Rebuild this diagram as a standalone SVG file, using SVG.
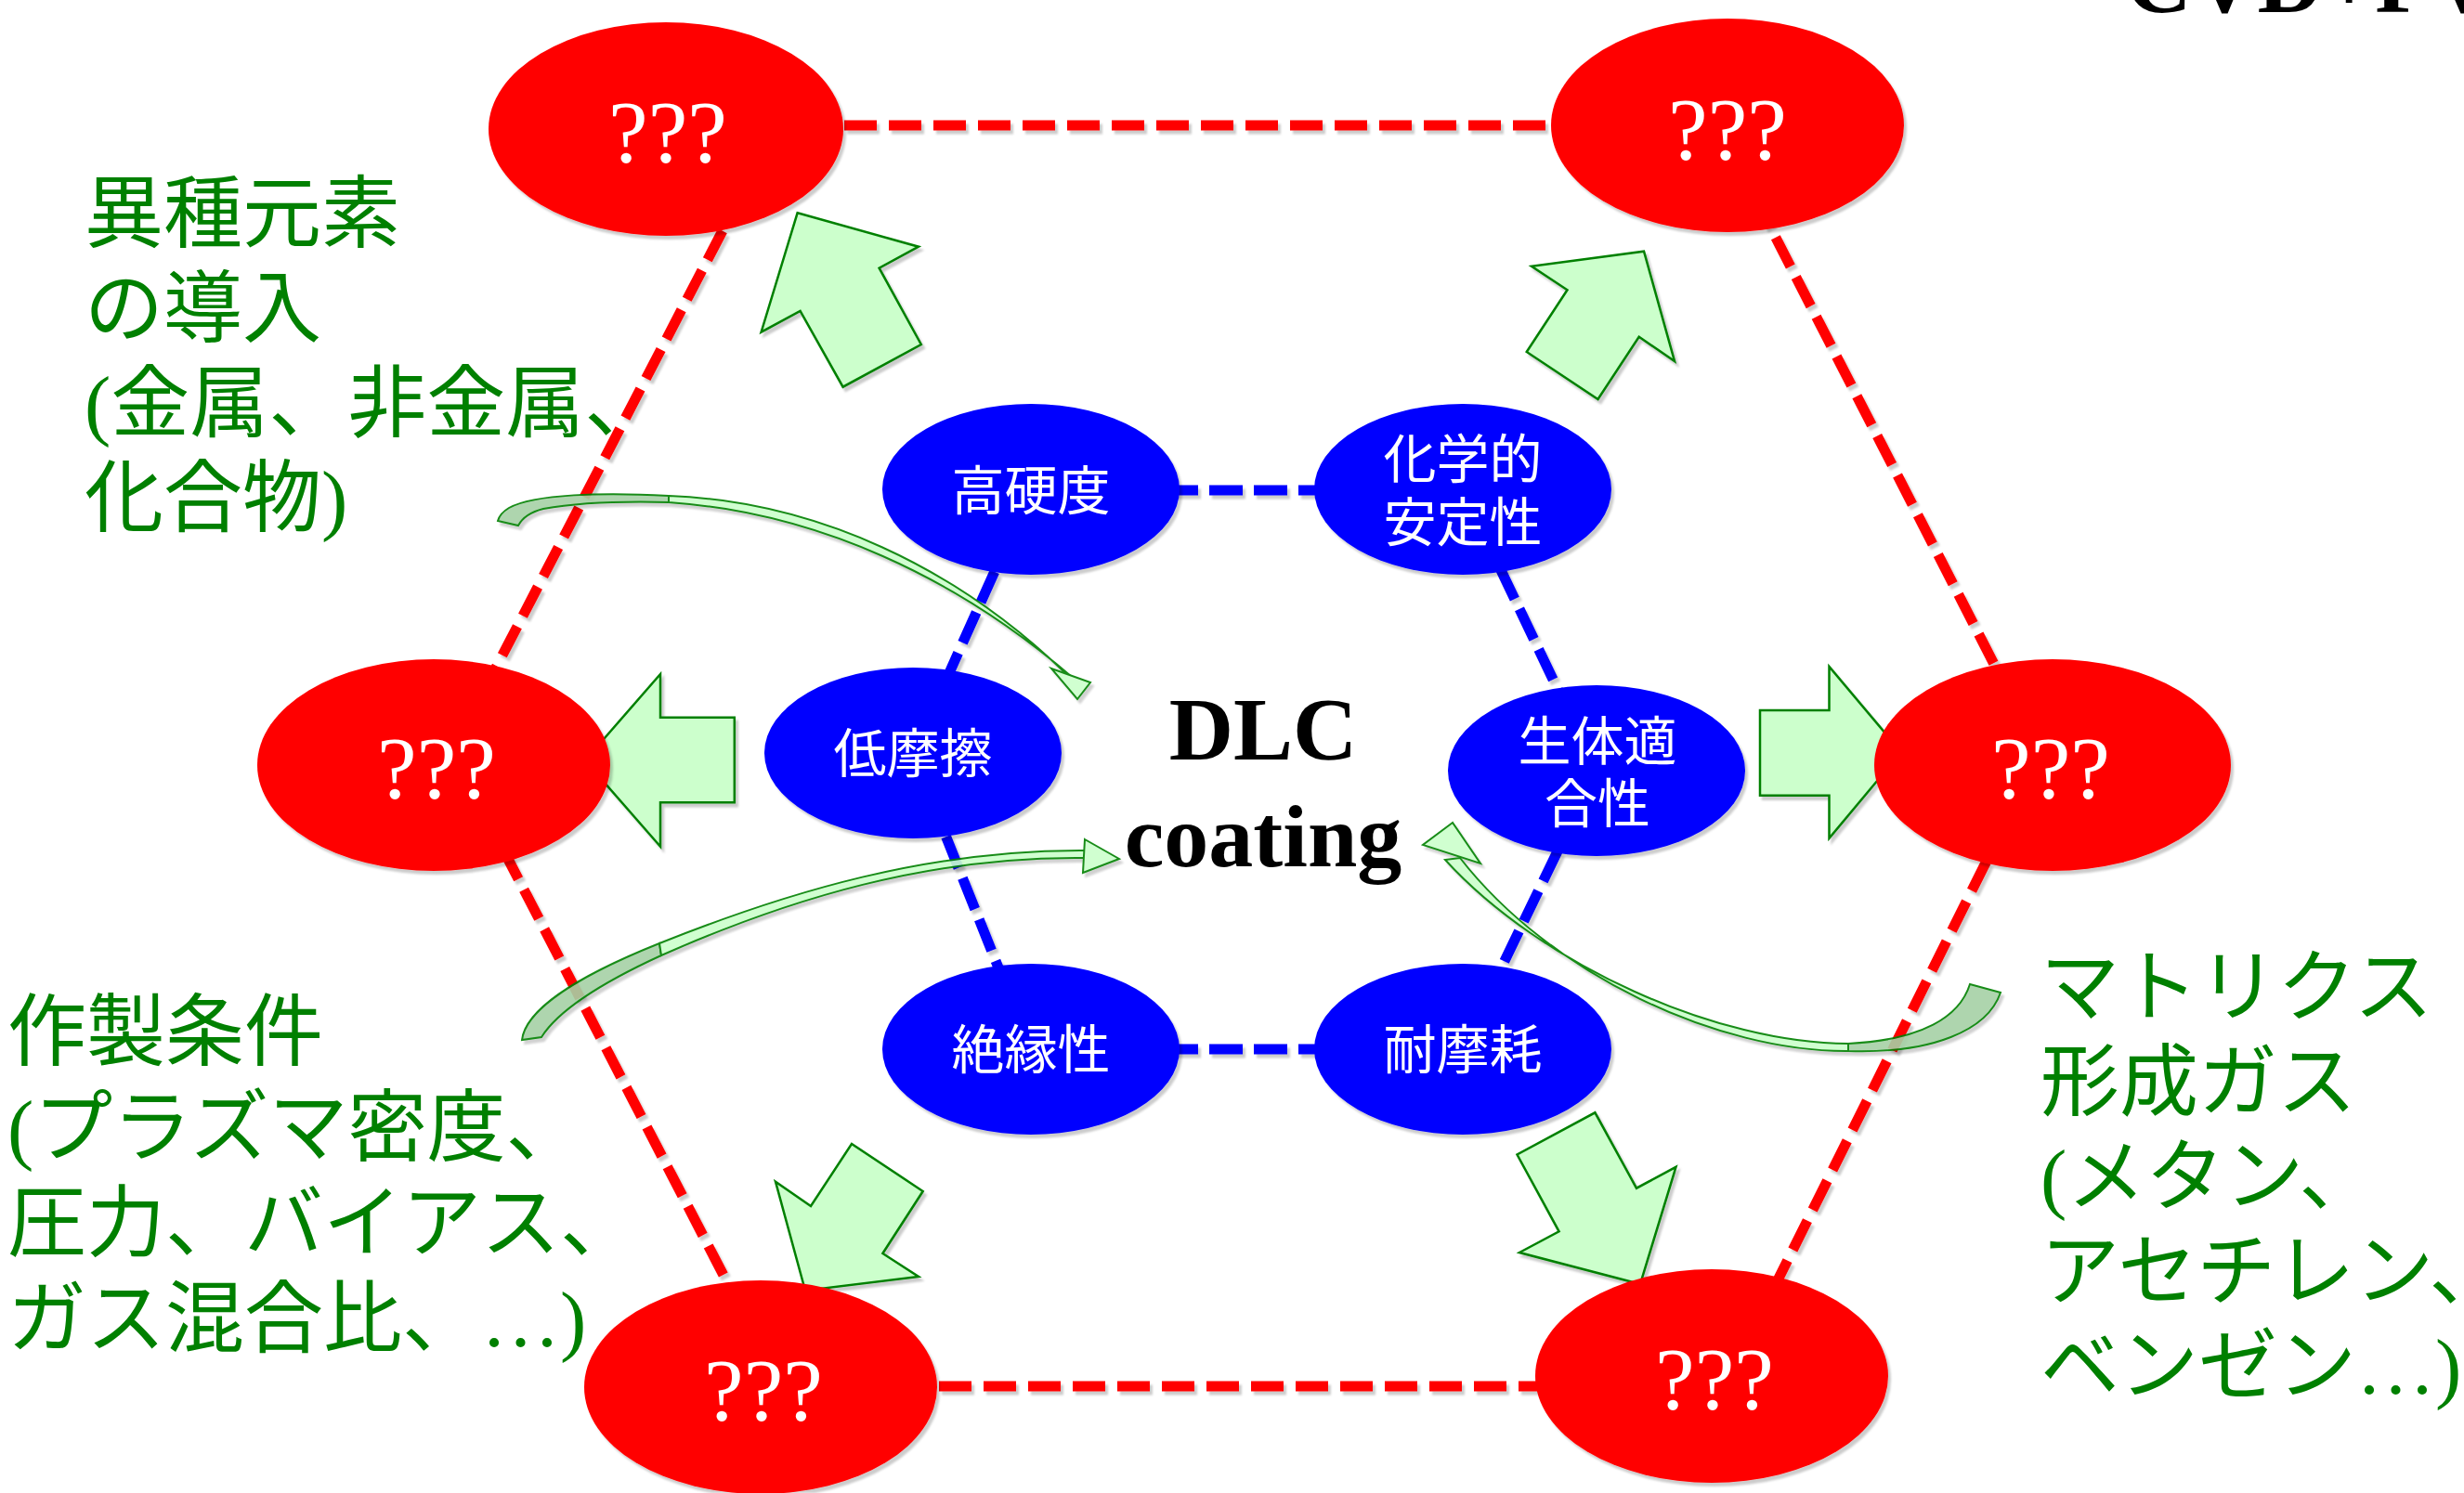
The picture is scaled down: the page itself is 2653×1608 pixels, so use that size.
<svg xmlns="http://www.w3.org/2000/svg" width="2653" height="1608" viewBox="0 0 2653 1608">
<defs>
<filter id="sh" filterUnits="userSpaceOnUse" x="0" y="0" width="2653" height="1608">
 <feOffset in="SourceAlpha" dx="3" dy="4" result="o"/>
 <feGaussianBlur in="o" stdDeviation="1.2" result="b"/>
 <feFlood flood-color="#000" flood-opacity="0.2"/>
 <feComposite in2="b" operator="in" result="s"/>
 <feMerge><feMergeNode in="s"/><feMergeNode in="SourceGraphic"/></feMerge>
</filter>
<style>
.red{fill:#ff0000}
.blue{fill:#0000ff}
.rl{stroke:#ff0000;stroke-width:11;stroke-dasharray:35 13;fill:none}
.bl{stroke:#0000ff;stroke-width:11;stroke-dasharray:36 12;fill:none}
.ba{fill:#ccffcc;stroke:#008000;stroke-width:2.5}
.rib{fill:#ccffcc;stroke:#008000;stroke-width:2}
.tail{fill:#a6d1a6;stroke:#008000;stroke-width:2}
.q{font-family:"Liberation Serif",serif;font-size:96px;fill:#fff;text-anchor:middle}
.bt{font-family:"Noto Sans CJK JP",sans-serif;font-size:57px;fill:#fff;text-anchor:middle}
.gt{font-family:"Liberation Serif","Noto Sans CJK JP",sans-serif;font-size:85px;fill:#008000}
.dlc{font-family:"Liberation Serif",serif;font-weight:bold;font-size:96px;fill:#000;text-anchor:middle}
</style>
</defs>
<rect width="2653" height="1608" fill="#fff"/>

<g id="connectors" filter="url(#sh)">
 <line class="rl" x1="717" y1="135" x2="1860" y2="135"/>
 <line class="rl" x1="800" y1="206" x2="505" y2="775"/>
 <line class="rl" x1="520" y1="873" x2="800" y2="1414"/>
 <line class="rl" x1="819" y1="1493" x2="1843" y2="1493"/>
 <line class="rl" x1="1890" y1="213" x2="2175" y2="770"/>
 <line class="rl" x1="2160" y1="885" x2="1890" y2="1427"/>
 <line class="bl" x1="1110" y1="528" x2="1574" y2="528"/>
 <line class="bl" x1="1110" y1="528" x2="983" y2="812"/>
 <line class="bl" x1="983" y1="812" x2="1110" y2="1130"/>
 <line class="bl" x1="1574" y1="526" x2="1719" y2="830"/>
 <line class="bl" x1="1719" y1="830" x2="1574" y2="1130"/>
 <line class="bl" x1="1110" y1="1130" x2="1574" y2="1130"/>
</g>

<g id="block-arrows" filter="url(#sh)">
 <polygon class="ba" points="858.6,229.3 989,265.7 946.6,288.7 991.8,371 907.6,416.7 861.6,335 819.6,357.7"/>
 <polygon class="ba" points="1770,270.7 1803,389 1764.7,362.7 1720.5,430 1643.75,379 1687.5,312.3 1649,286.7"/>
 <polygon class="ba" points="630,819 711,726 711,772.7 790.8,772.7 790.8,864.3 711,864.3 711,911.7"/>
 <polygon class="ba" points="2047,810 1969.5,718 1969.5,765 1895,765 1895,856.7 1969.5,856.7 1969.5,902.7"/>
 <polygon class="ba" points="867,1390 835,1272.7 873,1299 917,1232 993.7,1283 950.4,1350 989,1375"/>
 <polygon class="ba" points="1766,1383 1636,1349 1678.6,1326.3 1633.5,1243.5 1717.4,1198.3 1762,1279.7 1804.5,1256.9"/>
</g>

<g id="curved-arrows" filter="url(#sh)" opacity="0.9">
 <path class="tail" d="M 720,534 C 650,530 575,532 548,547 Q 538,553 536,561 L 558,566 Q 565,553 585,548 C 630,540 680,540 720,541 Z"/>
 <path class="rib" d="M 720,534 C 880,540 1030,612 1146,724 L 1154,729 C 1030,622 880,552 720,541 Z"/>
 <polygon class="rib" points="1132,720 1174,735 1160,753"/>

 <path class="tail" d="M 562,1120 C 565,1095 600,1060 710,1016 L 712,1029 C 640,1062 600,1090 583,1117 Z"/>
 <path class="rib" d="M 710,1016 C 850,960 1000,915 1168,916 L 1168,924 C 1000,922 850,968 712,1029 Z"/>
 <polygon class="rib" points="1168,904 1205,925 1166,940"/>

 <path class="tail" d="M 2121,1060 C 2110,1095 2070,1120 1990,1124 L 1990,1132 C 2080,1135 2140,1110 2154,1069 Z"/>
 <path class="rib" d="M 1990,1124 C 1850,1124 1660,1040 1556,926 L 1572,924 C 1670,1050 1850,1133 1990,1132 Z"/>
 <polygon class="rib" points="1564,886 1532,910 1594,930"/>
</g>

<g id="n-tl"><ellipse class="red" cx="717" cy="139" rx="191" ry="115" filter="url(#sh)"/><text class="q" x="719" y="175">???</text></g>
<g id="n-tr"><ellipse class="red" cx="1860" cy="135" rx="190" ry="115" filter="url(#sh)"/><text class="q" x="1860" y="172">???</text></g>
<g id="n-ml"><ellipse class="red" cx="467" cy="824" rx="190" ry="114" filter="url(#sh)"/><text class="q" x="470" y="860">???</text></g>
<g id="n-mr"><ellipse class="red" cx="2210" cy="824" rx="192" ry="114" filter="url(#sh)"/><text class="q" x="2208" y="860">???</text></g>
<g id="n-bl"><ellipse class="red" cx="819" cy="1494" rx="190" ry="115" filter="url(#sh)"/><text class="q" x="822" y="1530">???</text></g>
<g id="n-br"><ellipse class="red" cx="1843" cy="1482" rx="190" ry="115" filter="url(#sh)"/><text class="q" x="1846" y="1518">???</text></g>

<g id="b-hardness"><ellipse class="blue" cx="1110" cy="527" rx="160" ry="92" filter="url(#sh)"/><text class="bt" x="1110" y="549">高硬度</text></g>
<g id="b-chem"><ellipse class="blue" cx="1575" cy="527" rx="160" ry="92" filter="url(#sh)"/><text class="bt"><tspan x="1575" y="515">化学的</tspan><tspan x="1575" y="583">安定性</tspan></text></g>
<g id="b-friction"><ellipse class="blue" cx="983" cy="811" rx="160" ry="92" filter="url(#sh)"/><text class="bt" x="983" y="832">低摩擦</text></g>
<g id="b-bio"><ellipse class="blue" cx="1719" cy="830" rx="160" ry="92" filter="url(#sh)"/><text class="bt"><tspan x="1720" y="819">生体適</tspan><tspan x="1720" y="886">合性</tspan></text></g>
<g id="b-insul"><ellipse class="blue" cx="1110" cy="1130" rx="160" ry="92" filter="url(#sh)"/><text class="bt" x="1110" y="1151">絶縁性</text></g>
<g id="b-wear"><ellipse class="blue" cx="1575" cy="1130" rx="160" ry="92" filter="url(#sh)"/><text class="bt" x="1575" y="1151">耐摩耗</text></g>

<g id="center">
 <text class="dlc"><tspan x="1360" y="818">DLC</tspan><tspan x="1360" y="933">coating</tspan></text>
</g>

<g id="label-elements">
 <text class="gt"><tspan x="91" y="260">異種元素</tspan><tspan x="91" y="362">の導入</tspan><tspan x="91" y="464">(金属、非金属、</tspan><tspan x="91" y="566">化合物)</tspan></text>
</g>
<g id="label-conditions">
 <text class="gt"><tspan x="8" y="1141">作製条件</tspan><tspan x="8" y="1244">(プラズマ密度、</tspan><tspan x="8" y="1347">圧力、バイアス、</tspan><tspan x="8" y="1450">ガス混合比、…)</tspan></text>
</g>
<g id="label-gas">
 <text class="gt"><tspan x="2197" y="1093">マトリクス</tspan><tspan x="2197" y="1195">形成ガス</tspan><tspan x="2197" y="1297">(メタン、</tspan><tspan x="2197" y="1399">アセチレン、</tspan><tspan x="2197" y="1501">ベンゼン…)</tspan></text>
</g>
<text x="2289" y="13" font-family="Liberation Serif, serif" font-weight="bold" font-size="98" fill="#000">CVD+PVD</text>
</svg>
